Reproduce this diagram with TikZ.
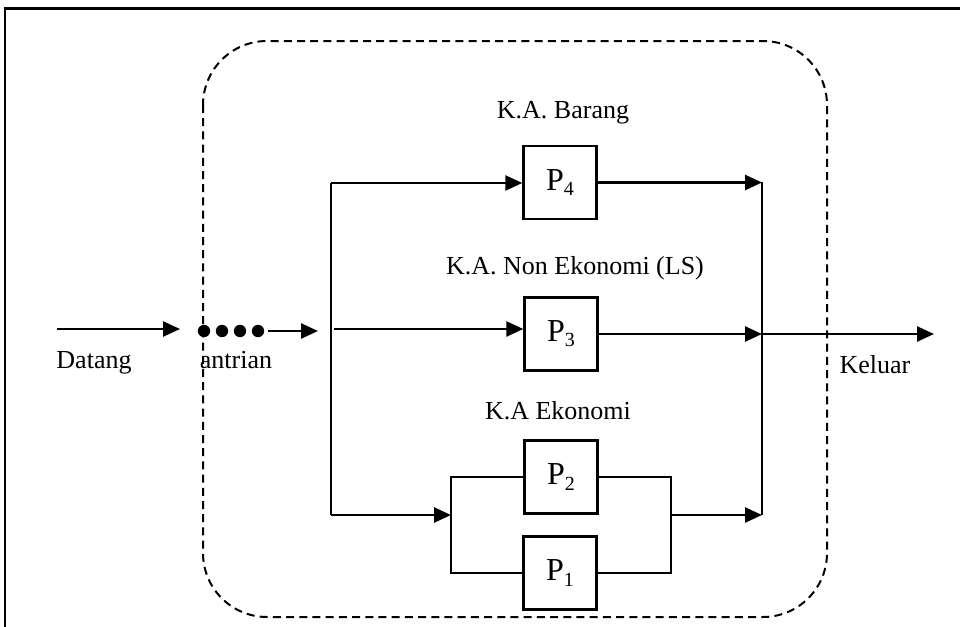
\documentclass[tikz,border=0pt]{standalone}
\usepackage{fontspec}
\setmainfont{Liberation Serif}
\usetikzlibrary{arrows.meta}
\newcommand\Psub[1]{P\raisebox{-0.35ex}{\fontsize{10}{11}\selectfont #1}}
\begin{document}
\begin{tikzpicture}[x=0.5pt,y=-0.5pt,
  conn/.style={line width=1.3pt},
  arr/.style={conn,-{Triangle[length=8.5pt,width=7.5pt]}},
  procbox/.style={draw,line width=1.2pt,minimum width=36.5pt,minimum height=36.5pt,inner sep=0pt,font=\fontsize{16}{19}\selectfont},
  qdot/.style={circle,fill,inner sep=0pt,minimum size=6.2pt},
  lbl/.style={anchor=base,inner sep=0pt,font=\fontsize{13}{15}\selectfont},
  ]
\useasboundingbox (0,0) rectangle (960,627);
% outer frame
\draw[line width=1.2pt] (960,8.5) -- (5,8.5) -- (5,627);
% dashed system boundary
\draw[dash pattern=on 4pt off 2.6pt, line width=1pt, rounded corners=32pt] (203,41) rectangle (827,617);

% servers
\node[procbox] (P4) at (560,182.5) {\Psub{4}};
\node[procbox] (P3) at (561,334) {\Psub{3}};
\node[procbox] (P2) at (561,477) {\Psub{2}};
\node[procbox] (P1) at (560,573) {\Psub{1}};

% queue dots
\node[qdot] (q1) at (204,331) {};
\node[qdot] (q2) at (222,331) {};
\node[qdot] (q3) at (240,331) {};
\node[qdot] (q4) at (258,331) {};

% coordinates
\coordinate (dA) at (57,329);
\coordinate (dB) at (180,329);
\coordinate (qA) at (268,331);
\coordinate (qB) at (318,331);
\coordinate (jT) at (331,183);
\coordinate (jB) at (331,515);
\coordinate (jM) at (334,329);
\coordinate (bL) at (451,515);
\coordinate (bR) at (671,515);
\coordinate (mT) at (762,182);
\coordinate (mM) at (762,334);
\coordinate (mB) at (762,515);
\coordinate (out) at (934,334);

% connectors
\draw[arr] (dA) -- (dB);
\draw[arr] (qA) -- (qB);
\draw[conn] (jT) -- (jB);
\draw[arr] (jT) -- (P4.west |- jT);
\draw[arr] (jM) -- (jM -| P3.west);
\draw[arr] (jB) -- (bL);
\draw[conn] (P2.west) -| (bL) |- (P1.west);
\draw[conn] (P2.east) -| (bR) |- (P1.east);
\draw[arr] (P4.east) -- (P4.east -| mT);
\draw[arr] (P3.east) -- (P3.east -| mM);
\draw[arr] (bR) -- (mB);
\draw[conn] (mT) -- (mB);
\draw[arr] (mM) -- (out);

% labels
\node[lbl] (datang) at (94,368) {Datang};
\node[lbl] (antrian) at (236,368) {antrian};
\node[lbl] (keluar) at (875,373) {Keluar};
\node[lbl] (kab) at (563,118) {K.A. Barang};
\node[lbl] (kanon) at (575,274) {K.A. Non Ekonomi (LS)};
\node[lbl] (kae) at (558,419) {K.A Ekonomi};
\end{tikzpicture}
\end{document}
